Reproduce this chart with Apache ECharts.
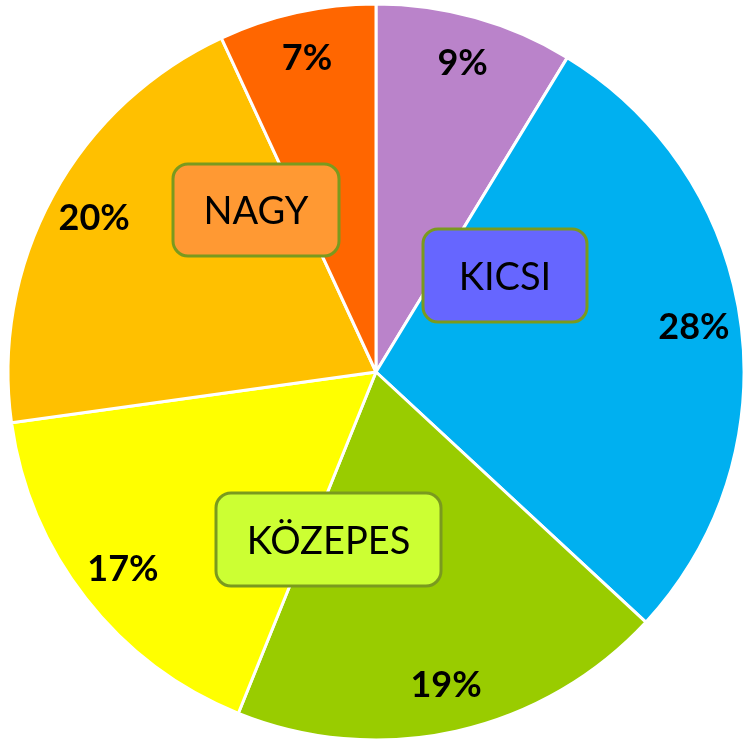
<!DOCTYPE html>
<html lang="hu">
<head>
    <meta charset="UTF-8">
    <title>Pie</title>
    <script src="https://cdn.jsdelivr.net/npm/echarts@6/dist/echarts.min.js"></script>
    <style>
        html, body { margin: 0; padding: 0; background: #ffffff; }
        #main { width: 745px; height: 741px; }
    </style>
</head>
<body>
<div id="main"></div>
<script type="text/javascript">
    // slice values (percent), clockwise from 12 o'clock
    var names = ['a', 'b', 'c', 'd', 'e', 'f']
    var values = [8.7, 28.2, 19.2, 16.7, 20.3, 6.9]
    var colors = ['#BA83CA', '#00B0F0', '#99CC00', '#FFFF00', '#FFC000', '#FF6600']

    // annotation boxes
    var boxTexts = ['KICSI', 'NAGY', 'KÖZEPES']
    var boxFills = ['#6666FF', '#FF9933', '#CCFF33']

    var pieData = []
    for (var i = 0; i < values.length; i++) {
        pieData.push({ name: names[i], value: values[i], itemStyle: { color: colors[i] } })
    }

    // box geometry (x, y, w, h) — layout only
    var boxes = [
        [423, 229, 164, 93],
        [173, 164, 166, 92],
        [216, 493, 225, 93]
    ]

    var graphics = []
    for (var k = 0; k < boxes.length; k++) {
        var b = boxes[k]
        graphics.push({
            type: 'rect',
            shape: { x: b[0], y: b[1], width: b[2], height: b[3], r: 15 },
            style: { fill: boxFills[k], stroke: '#7A9A1E', lineWidth: 3 },
            z: 100
        })
        graphics.push({
            type: 'text',
            x: b[0] + b[2] / 2,
            y: b[1] + b[3] / 2 + 2,
            style: {
                text: boxTexts[k],
                fill: '#000',
                font: '38px Lato',
                align: 'center',
                verticalAlign: 'middle'
            },
            z: 101
        })
    }

    var myChart = echarts.init(document.getElementById('main'))

    var option = {
        animation: false,
        series: [{
            type: 'pie',
            center: [376, 372],
            radius: [0, 368],
            startAngle: 90,
            clockwise: true,
            label: { show: false },
            labelLine: { show: false },
            itemStyle: { borderColor: '#ffffff', borderWidth: 3 },
            emphasis: { disabled: true },
            data: pieData
        }, {
            // transparent ring just to place the percent labels
            type: 'pie',
            center: [376, 372],
            radius: [268, 368],
            startAngle: 90,
            clockwise: true,
            silent: true,
            percentPrecision: 0,
            itemStyle: { color: 'transparent', borderWidth: 0 },
            label: {
                show: true,
                position: 'inside',
                formatter: '{d}%',
                color: '#000',
                fontFamily: 'Lato',
                fontWeight: 'bold',
                fontSize: 36
            },
            labelLine: { show: false },
            emphasis: { disabled: true },
            data: values
        }],
        graphic: graphics
    }

    myChart.setOption(option)
</script>
</body>
</html>
